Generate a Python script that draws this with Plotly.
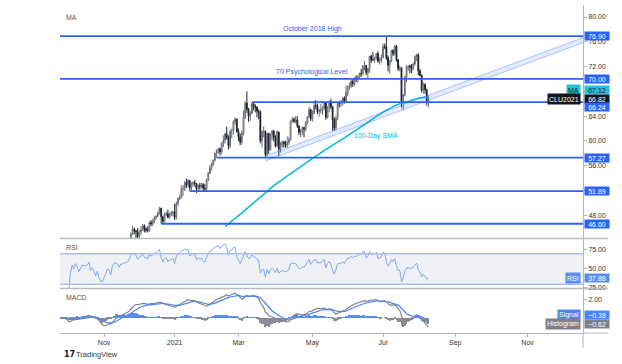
import numpy as np
import pandas as pd
import plotly.graph_objects as go
from plotly.subplots import make_subplots

# ---------------- data ----------------
SYMBOL = "CLU2021"
FIRST_SESSION = "2020-09-24"
LAST_SESSION = "2021-08-10"
HOLIDAYS = ["2020-11-26", "2020-12-25", "2021-01-01", "2021-01-18",
            "2021-02-15", "2021-04-02", "2021-05-31", "2021-07-05"]

opens = [
    39.9, 40.3, 40.1, 40.6, 39.3,
    40.1, 38.7, 37.0, 39.2, 40.6, 39.9, 41.2, 40.5, 39.4, 40.2, 41.0, 40.9, 40.9, 41.1, 41.6, 40.0, 40.6, 39.8, 38.6, 39.6, 37.4, 36.2,
    35.8, 36.8, 37.7, 39.1, 38.8, 37.1, 40.3, 41.4, 41.5, 41.1, 40.1, 41.3, 41.4, 41.8, 41.7, 42.2, 43.1, 44.9, 45.7, 45.5,
    45.3, 44.6, 45.3, 45.6, 46.3, 45.8, 45.6, 45.5, 46.8, 46.6, 47.0, 47.6, 47.8, 48.4, 49.1, 47.7, 47.0, 48.1, 48.2, 47.6, 48.0, 48.4,
    48.5, 47.6, 49.9, 50.6, 50.8, 52.2, 52.3, 53.2, 52.9, 53.6, 52.4, 53.0, 53.2, 53.1, 52.3, 52.8, 52.6, 52.9, 52.3,
    52.2, 53.6, 54.8, 55.7, 56.2, 56.9, 58.0, 58.4, 58.7, 58.2, 59.5, 60.1, 61.1, 60.5, 59.2, 61.5, 61.7, 63.2, 63.5,
    61.5, 60.6, 59.8, 61.3, 63.8, 66.1, 65.1, 64.0, 64.4, 66.0, 65.6, 65.4, 64.8, 64.6, 60.0, 61.4, 61.5, 57.8, 61.2, 58.6, 61.0, 61.6, 60.6,
    59.2, 61.4, 58.6, 59.3, 59.8, 59.6, 59.3, 59.7, 60.2, 63.2, 63.5, 63.1, 63.4, 62.4, 61.4, 61.4, 62.1, 61.9, 62.9, 63.9, 65.0,
    63.6, 64.5, 65.7, 65.6, 64.7, 64.9, 64.9, 65.3, 66.1, 63.8, 65.4, 66.3, 65.5, 63.4, 62.1, 63.6, 66.1, 66.1, 66.2, 66.9,
    66.3, 67.7, 68.8, 68.8, 69.6, 69.2, 70.1, 70.0, 70.3, 70.9, 70.9, 72.1, 72.2, 71.0, 71.6, 73.7, 73.1, 73.1, 73.3, 74.1, 72.9, 73.0,
    73.5, 75.2, 75.2, 73.4, 72.2, 72.9, 74.6, 74.1, 75.3, 73.1, 71.7, 71.8, 66.4, 67.4, 70.3, 71.9, 72.1, 71.9, 71.7, 72.4, 73.6,
    73.9, 71.3, 70.6, 68.2, 69.1, 68.3, 66.5,
]
highs = [
    40.6, 40.5, 40.9, 40.7, 40.4,
    40.4, 38.9, 39.4, 40.9, 40.7, 41.4, 41.5, 40.6, 40.4, 41.3, 41.1, 41.2, 41.3, 41.9, 41.8, 40.8, 40.7, 39.9, 39.8, 39.7, 37.6, 36.3,
    37.1, 38.3, 39.8, 39.3, 38.9, 41.0, 41.6, 42.0, 41.7, 41.2, 41.6, 41.8, 42.0, 41.9, 42.4, 43.3, 45.2, 46.3, 46.0, 45.6,
    45.9, 45.6, 46.2, 46.6, 46.5, 46.0, 46.2, 47.0, 47.2, 47.4, 47.8, 48.0, 48.6, 49.3, 49.2, 47.9, 48.4, 48.6, 48.9, 48.4, 48.7, 48.6,
    49.8, 50.2, 50.9, 51.3, 52.8, 52.8, 53.5, 53.9, 53.8, 53.6, 53.3, 53.5, 53.7, 53.2, 53.0, 53.2, 53.2, 53.2, 53.0,
    53.9, 55.0, 56.0, 56.5, 57.0, 58.1, 58.6, 58.9, 58.9, 59.8, 60.9, 61.3, 62.3, 60.9, 61.8, 62.0, 63.3, 63.8, 63.6,
    62.0, 61.2, 61.7, 64.9, 66.4, 67.98, 65.3, 64.8, 66.24, 66.1, 65.9, 65.6, 65.1, 64.9, 61.7, 62.3, 61.7, 61.3, 61.3, 61.2, 61.8, 61.7, 60.9,
    61.7, 61.5, 59.8, 60.1, 60.0, 60.0, 60.7, 60.6, 63.3, 63.8, 63.8, 64.0, 64.0, 62.5, 61.9, 62.3, 62.3, 63.2, 64.0, 65.5, 65.2,
    64.9, 66.4, 66.6, 66.0, 65.2, 66.0, 65.6, 66.4, 66.2, 65.6, 66.5, 66.8, 65.6, 63.8, 64.1, 66.2, 66.4, 66.6, 67.1, 67.2,
    68.9, 68.9, 69.4, 69.8, 70.0, 70.3, 70.6, 70.6, 71.0, 71.6, 72.2, 72.9, 72.2, 71.8, 73.7, 73.9, 74.3, 73.6, 74.2, 74.5, 73.5, 74.0,
    75.7, 75.7, 76.85, 73.8, 73.0, 74.7, 74.8, 75.5, 75.5, 73.2, 72.2, 71.8, 67.5, 70.5, 72.2, 72.2, 72.3, 72.4, 72.7, 73.8, 74.0,
    74.1, 71.6, 70.7, 69.4, 69.3, 68.4, 67.3,
]
lows = [
    39.5, 39.7, 39.9, 38.9, 38.7,
    38.3, 36.6, 36.9, 38.7, 39.3, 39.8, 40.2, 39.2, 39.3, 40.0, 39.9, 40.5, 40.6, 40.7, 39.9, 39.6, 39.6, 38.2, 38.5, 37.1, 35.6, 34.9,
    33.6, 36.6, 37.3, 38.2, 36.9, 37.0, 39.6, 41.1, 40.8, 39.9, 39.8, 40.9, 41.0, 40.9, 41.5, 42.0, 42.9, 44.8, 44.9, 44.0,
    43.9, 43.6, 44.8, 45.4, 45.2, 45.2, 45.2, 45.3, 46.2, 46.2, 46.7, 47.3, 47.7, 48.1, 46.6, 46.7, 46.8, 47.8, 47.5, 47.4, 47.8, 47.8,
    47.2, 47.3, 49.5, 50.4, 50.7, 51.1, 51.9, 52.4, 52.5, 51.89, 52.0, 52.6, 52.6, 51.6, 51.9, 52.1, 52.3, 51.8, 51.9,
    51.9, 53.5, 54.6, 55.2, 55.9, 56.7, 57.27, 57.9, 57.6, 57.9, 59.0, 59.6, 60.2, 58.6, 58.8, 60.4, 61.0, 62.6, 61.3,
    60.0, 59.3, 59.4, 60.9, 63.5, 64.5, 63.1, 63.2, 64.3, 64.9, 64.6, 63.8, 63.5, 59.6, 58.9, 60.6, 57.3, 57.6, 57.9, 58.4, 60.1, 59.9, 58.9,
    59.0, 57.6, 58.1, 58.9, 58.9, 58.9, 58.9, 59.3, 60.0, 62.9, 62.9, 62.8, 62.1, 60.9, 60.6, 60.9, 60.6, 61.5, 62.7, 63.7, 63.2,
    63.1, 64.3, 65.1, 64.3, 63.9, 64.4, 64.2, 65.0, 63.4, 63.6, 64.6, 65.1, 61.6, 61.6, 61.8, 63.3, 65.4, 65.5, 65.7, 66.0,
    66.2, 67.2, 68.2, 68.5, 68.7, 68.9, 69.5, 69.4, 70.0, 70.3, 70.6, 71.4, 70.6, 70.0, 71.0, 72.6, 72.9, 72.6, 73.1, 72.6, 72.3, 72.6,
    73.3, 74.8, 73.1, 71.2, 70.8, 72.7, 73.7, 73.8, 72.8, 71.3, 71.2, 65.4, 65.0, 67.2, 69.5, 71.3, 70.9, 70.9, 71.4, 72.2, 72.9,
    70.6, 70.5, 67.8, 67.6, 67.6, 65.7, 65.4,
]
closes = [
    40.31, 40.25, 40.60, 39.29, 40.22,
    38.72, 37.05, 39.22, 40.67, 39.95, 41.19, 40.60, 39.43, 40.20, 41.04, 40.96, 40.88, 41.06, 41.70, 40.03, 40.64, 39.85, 38.56, 39.57, 37.39, 36.17, 35.79,
    36.81, 37.66, 39.15, 38.79, 37.14, 40.29, 41.36, 41.45, 41.12, 40.13, 41.34, 41.43, 41.82, 41.74, 42.15, 43.06, 44.91, 45.71, 45.53, 45.34,
    44.55, 45.28, 45.64, 46.26, 45.76, 45.60, 45.52, 46.78, 46.57, 46.99, 47.62, 47.82, 48.36, 49.10, 47.74, 47.02, 48.12, 48.23, 47.62, 48.00, 48.40, 48.52,
    47.62, 49.93, 50.63, 50.83, 52.24, 52.25, 53.21, 52.91, 53.57, 52.36, 52.98, 53.24, 53.13, 52.27, 52.77, 52.61, 52.85, 52.34, 52.20,
    53.55, 54.76, 55.69, 56.23, 56.85, 57.97, 58.36, 58.68, 58.24, 59.47, 60.05, 61.14, 60.52, 59.24, 61.49, 61.67, 63.22, 63.53, 61.50,
    60.64, 59.75, 61.28, 63.83, 66.09, 65.05, 64.01, 64.44, 66.02, 65.61, 65.39, 64.80, 64.60, 60.00, 61.42, 61.55, 57.76, 61.18, 58.56, 60.97, 61.56, 60.55, 59.16,
    61.45, 58.65, 59.33, 59.77, 59.60, 59.32, 59.70, 60.18, 63.15, 63.46, 63.13, 63.38, 62.44, 61.35, 61.43, 62.14, 61.91, 62.94, 63.86, 65.01, 63.58,
    64.49, 65.69, 65.63, 64.71, 64.90, 64.92, 65.28, 66.08, 63.82, 65.37, 66.27, 65.49, 63.36, 62.05, 63.58, 66.05, 66.07, 66.21, 66.85, 66.32,
    67.72, 68.83, 68.81, 69.62, 69.23, 70.05, 69.96, 70.29, 70.91, 70.88, 72.12, 72.15, 71.04, 71.64, 73.66, 73.06, 73.08, 73.30, 74.05, 72.91, 72.98, 73.47,
    75.23, 75.16, 73.37, 72.20, 72.94, 74.56, 74.10, 75.25, 73.13, 71.65, 71.81, 66.42, 67.42, 70.30, 71.91, 72.07, 71.91, 71.65, 72.39, 73.62, 73.95,
    71.26, 70.56, 68.15, 69.09, 68.28, 66.48, 66.82,
]

# horizontal levels drawn by the analyst
level_values = [76.90, 70.00, 66.24, 57.27, 51.89, 46.60]
level_starts = ["2020-09-24", "2020-09-24", "2021-03-11", "2021-02-09", "2021-01-15", "2020-12-21"]
level_notes = ["October 2018 High", "70 Psychological Level"]

# rising channel
channel_dates = ["2021-03-23", "2021-12-16"]
channel_upper = [57.54, 76.67]
channel_lower = [56.74, 75.86]

# axis ticks
month_ticks = ["2020-11-02", "2021-01-04", "2021-03-01", "2021-05-03",
               "2021-07-01", "2021-09-01", "2021-11-01"]
month_labels = ["Nov", "2021", "Mar", "May", "Jul", "Sep", "Nov"]
price_ticks = [48, 52, 56, 60, 64, 68, 72, 76, 80]
rsi_ticks = [25, 50, 75]
macd_ticks = [2]

# last-value tags shown on the scale
tag_ma = "67.12"
tag_price = "66.82"
tag_rsi = "37.88"
tag_signal = "\u22120.38"
tag_hist = "\u22120.62"

# ---------------- styling ----------------
X_RANGE = ["2020-09-24 19:00", "2021-12-16"]
Y_PRICE = [44.30, 81.94]
Y_RSI = [25.0, 89.47]
Y_MACD = [-1.67, 3.22]
BLUE = "#2962FF"
CYAN = "#22C3D6"
RSI_BLUE = "#5B8DEF"
SIG_BLUE = "#4C84F0"
GRAY = "#7E818B"
AX = "#B2B5BE"
FONT = "Liberation Sans, Arial, sans-serif"

# ---------------- indicators ----------------
sessions = pd.bdate_range(FIRST_SESSION, LAST_SESSION, freq="C", holidays=HOLIDAYS)
assert len(sessions) == len(closes) == len(opens) == len(highs) == len(lows)
c = pd.Series(closes, index=sessions)
sma100 = c.rolling(100).mean()
delta = c.diff()
gain = delta.clip(lower=0).ewm(alpha=1 / 14, adjust=True, min_periods=6).mean()
loss = (-delta.clip(upper=0)).ewm(alpha=1 / 14, adjust=True, min_periods=6).mean()
rsi = 100 - 100 / (1 + gain / loss)
macd = c.ewm(span=12, adjust=False).mean() - c.ewm(span=26, adjust=False).mean()
signal = macd.ewm(span=9, adjust=False).mean()
hist = macd - signal

# ---------------- figure ----------------
fig = make_subplots(rows=3, cols=1, shared_xaxes=True, vertical_spacing=0.0)

fig.add_trace(go.Candlestick(
    x=sessions, open=opens, high=highs, low=lows, close=closes,
    increasing=dict(line=dict(color="#6A6D78", width=1), fillcolor="#FFFFFF"),
    decreasing=dict(line=dict(color="#1E222D", width=1), fillcolor="#1E222D"),
    whiskerwidth=0, showlegend=False, hoverinfo="skip"), row=1, col=1)

fig.add_trace(go.Scatter(x=sessions, y=sma100, mode="lines",
                         line=dict(color="#00BCD4", width=1.5),
                         showlegend=False, hoverinfo="skip"), row=1, col=1)

fig.add_trace(go.Scatter(x=channel_dates, y=channel_lower, mode="lines",
                         line=dict(color="rgba(41,98,255,0.35)", width=1),
                         showlegend=False, hoverinfo="skip"), row=1, col=1)
fig.add_trace(go.Scatter(x=channel_dates, y=channel_upper, mode="lines",
                         line=dict(color="rgba(41,98,255,0.35)", width=1),
                         fill="tonexty", fillcolor="rgba(41,98,255,0.13)",
                         showlegend=False, hoverinfo="skip"), row=1, col=1)

for val, start in zip(level_values, level_starts):
    fig.add_trace(go.Scatter(x=[start, X_RANGE[1]], y=[val, val], mode="lines",
                             line=dict(color=BLUE, width=1.8),
                             showlegend=False, hoverinfo="skip"), row=1, col=1)

# RSI
fig.add_trace(go.Scatter(x=sessions, y=rsi, mode="lines",
                         line=dict(color="#7FA7F2", width=1),
                         showlegend=False, hoverinfo="skip"), row=2, col=1)

# MACD
hist_colors = [("#5B8DEF" if h >= 0 else "#8A8D96") for h in hist]
fig.add_trace(go.Bar(x=sessions, y=hist, marker=dict(color=hist_colors, line=dict(width=0)),
                     width=0.55 * 86400000, showlegend=False, hoverinfo="skip"), row=3, col=1)
fig.add_trace(go.Scatter(x=sessions, y=macd, mode="lines",
                         line=dict(color="#80838D", width=1.2),
                         showlegend=False, hoverinfo="skip"), row=3, col=1)
fig.add_trace(go.Scatter(x=sessions, y=signal, mode="lines",
                         line=dict(color=SIG_BLUE, width=1.2),
                         showlegend=False, hoverinfo="skip"), row=3, col=1)

# axes
fig.update_xaxes(
    range=X_RANGE,
    rangebreaks=[dict(bounds=["sat", "mon"]), dict(values=HOLIDAYS)],
    rangeslider_visible=False, showgrid=False, zeroline=False,
    tickvals=month_ticks, ticktext=month_labels,
    tickfont=dict(family=FONT, size=7, color="#333333"),
    ticks="", showline=False)
fig.update_xaxes(row=3, col=1, ticks="outside", ticklen=3, tickcolor=AX,
                 showline=True, linecolor=AX, linewidth=1, showticklabels=True)
fig.update_xaxes(row=1, col=1, showticklabels=False)
fig.update_xaxes(row=2, col=1, showticklabels=False)

yaxis_common = dict(side="right", showgrid=False, zeroline=False, showline=True,
                    linecolor=AX, linewidth=1, ticks="outside", ticklen=3,
                    tickcolor=AX, tickformat=".2f",
                    tickfont=dict(family=FONT, size=7, color="#333333"))
fig.update_layout(
    yaxis=dict(domain=[0.2896, 1.0], range=Y_PRICE, tickvals=price_ticks, **yaxis_common),
    yaxis2=dict(domain=[0.1372, 0.2866], range=Y_RSI, tickvals=rsi_ticks, **yaxis_common),
    yaxis3=dict(domain=[0.0, 0.1341], range=Y_MACD, tickvals=macd_ticks, **yaxis_common),
)

shapes = [
    dict(type="rect", xref="paper", yref="y2", x0=0, x1=1, y0=30, y1=70,
         fillcolor="#EFF1F5", line=dict(width=0), layer="below"),
    dict(type="line", xref="paper", yref="y2", x0=0, x1=1, y0=70, y1=70,
         line=dict(color="#A9BFF5", width=1.5)),
    dict(type="line", xref="paper", yref="y2", x0=0, x1=1, y0=30, y1=30,
         line=dict(color="#A9BFF5", width=1.5)),
    dict(type="line", xref="paper", yref="paper", x0=0, x1=1.048, y0=0.2881, y1=0.2881,
         line=dict(color="#B8BBC3", width=1.5)),
    dict(type="line", xref="paper", yref="paper", x0=0, x1=1.048, y0=0.1357, y1=0.1357,
         line=dict(color="#B8BBC3", width=1.5)),
    dict(type="line", xref="paper", yref="paper", x0=1, x1=1.048, y0=0, y1=0,
         line=dict(color=AX, width=1)),
    dict(type="line", xref="paper", yref="paper", x0=1, x1=1, y0=0, y1=-0.046,
         line=dict(color=AX, width=1)),
]

ann = []
def txt(text, x, y, yref, color, size=7, xanchor="center", yanchor="middle", yshift=0):
    ann.append(dict(text=text, x=x, y=y, xref="paper", yref=yref, showarrow=False,
                    xanchor=xanchor, yanchor=yanchor, yshift=yshift,
                    font=dict(family=FONT, size=size, color=color)))

def value_tag(text, y, yref, bg, fg):
    ann.append(dict(text=text, x=1.0, y=y, xref="paper", yref=yref, showarrow=False,
                    xanchor="left", yanchor="middle", xshift=0.5, width=24, height=8,
                    bgcolor=bg, borderpad=0, align="center",
                    font=dict(family=FONT, size=7, color=fg)))

def name_tag(text, y, yref, bg, fg):
    ann.append(dict(text=text, x=1.0, y=y, xref="paper", yref=yref, showarrow=False,
                    xanchor="right", yanchor="middle", xshift=-2, height=8,
                    bgcolor=bg, borderpad=1, align="center",
                    font=dict(family=FONT, size=7, color=fg)))

# level notes
txt(level_notes[0], 0.482, level_values[0], "y", BLUE, yanchor="bottom", yshift=1)
txt(level_notes[1], 0.481, level_values[1], "y", BLUE, yanchor="bottom", yshift=1)
txt("100-Day SMA", 0.604, 60.78, "y", "#00BCD4")
# pane titles
txt("MA", 0.007, 80.0, "y", "#555555", xanchor="left")
txt("RSI", 0.007, 78.9, "y2", "#555555", xanchor="left")
txt("MACD", 0.007, 2.33, "y3", "#555555", xanchor="left")

# scale tags
for v in level_values:
    if v not in (66.24,):
        value_tag(f"{v:.2f}", v, "y", BLUE, "white")
value_tag(tag_ma, 68.21, "y", CYAN, "#131722")
name_tag("MA", 68.21, "y", CYAN, "#131722")
value_tag(tag_price, 66.75, "y", "#131722", "white")
name_tag(SYMBOL, 66.75, "y", "#131722", "white")
value_tag(f"{level_values[2]:.2f}", 65.46, "y", BLUE, "white")
value_tag(tag_rsi, 37.88, "y2", RSI_BLUE, "white")
name_tag("RSI", 37.88, "y2", RSI_BLUE, "white")
value_tag(tag_signal, 0.33, "y3", SIG_BLUE, "white")
name_tag("Signal", 0.33, "y3", SIG_BLUE, "white")
value_tag(tag_hist, -0.67, "y3", GRAY, "white")
name_tag("Histogram", -0.67, "y3", GRAY, "white")

# watermark
ann.append(dict(text="<b>17</b>", x=0.004, y=-0.067, xref="paper", yref="paper",
                showarrow=False, xanchor="left", yanchor="middle",
                font=dict(family="DejaVu Sans", size=8, color="#131722")))
ann.append(dict(text="TradingView", x=0.027, y=-0.067, xref="paper", yref="paper",
                showarrow=False, xanchor="left", yanchor="middle",
                font=dict(family=FONT, size=7.5, color="#333333")))

fig.update_layout(
    width=622, height=364,
    margin=dict(l=60, r=39, t=5, b=31),
    paper_bgcolor="white", plot_bgcolor="white",
    showlegend=False, bargap=0,
    shapes=shapes, annotations=ann,
    font=dict(family=FONT, size=7, color="#333333"),
)

fig.write_html("out.html", config={"displayModeBar": False},
               post_script="document.body.style.margin='0px';document.body.style.overflow='hidden';")
